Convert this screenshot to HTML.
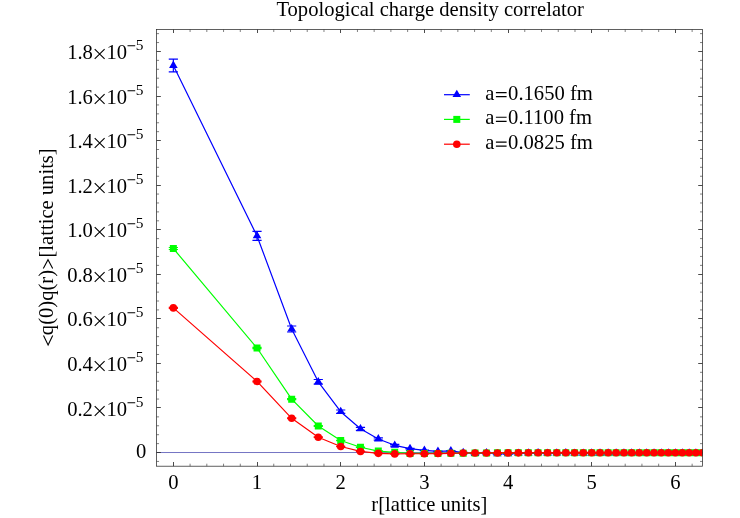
<!DOCTYPE html>
<html><head><meta charset="utf-8"><title>Topological charge density correlator</title>
<style>html,body{margin:0;padding:0;background:#fff}svg{display:block;will-change:transform}text{font-family:"Liberation Serif",serif;fill:#000}</style>
</head><body>
<svg width="740" height="518" viewBox="0 0 740 518">
<rect width="740" height="518" fill="#fff"/>
<defs><clipPath id="cp"><rect x="156.55" y="29.5" width="545.95" height="436.70"/></clipPath></defs>
<line x1="156.55" y1="452.52" x2="702.5" y2="452.52" stroke="#7474c4" stroke-width="1"/>
<path d="M173.50 466.2v-4.2M173.50 29.5v3.5M257.50 466.2v-4.2M257.50 29.5v3.5M340.50 466.2v-4.2M340.50 29.5v3.5M424.50 466.2v-4.2M424.50 29.5v3.5M508.50 466.2v-4.2M508.50 29.5v3.5M591.50 466.2v-4.2M591.50 29.5v3.5M675.50 466.2v-4.2M675.50 29.5v3.5M156.55 452.50h4.3M702.5 452.50h-4.3M156.55 407.50h4.3M702.5 407.50h-4.3M156.55 363.50h4.3M702.5 363.50h-4.3M156.55 318.50h4.3M702.5 318.50h-4.3M156.55 274.50h4.3M702.5 274.50h-4.3M156.55 229.50h4.3M702.5 229.50h-4.3M156.55 185.50h4.3M702.5 185.50h-4.3M156.55 140.50h4.3M702.5 140.50h-4.3M156.55 96.50h4.3M702.5 96.50h-4.3M156.55 51.50h4.3M702.5 51.50h-4.3" fill="none" stroke="#2b2b2b" stroke-width="0.85"/>
<path d="M190.08 466.2v-2.5M190.08 29.5v2.5M206.82 466.2v-2.5M206.82 29.5v2.5M223.56 466.2v-2.5M223.56 29.5v2.5M240.29 466.2v-2.5M240.29 29.5v2.5M273.76 466.2v-2.5M273.76 29.5v2.5M290.50 466.2v-2.5M290.50 29.5v2.5M307.23 466.2v-2.5M307.23 29.5v2.5M323.97 466.2v-2.5M323.97 29.5v2.5M357.44 466.2v-2.5M357.44 29.5v2.5M374.17 466.2v-2.5M374.17 29.5v2.5M390.90 466.2v-2.5M390.90 29.5v2.5M407.64 466.2v-2.5M407.64 29.5v2.5M441.11 466.2v-2.5M441.11 29.5v2.5M457.85 466.2v-2.5M457.85 29.5v2.5M474.58 466.2v-2.5M474.58 29.5v2.5M491.32 466.2v-2.5M491.32 29.5v2.5M524.78 466.2v-2.5M524.78 29.5v2.5M541.52 466.2v-2.5M541.52 29.5v2.5M558.25 466.2v-2.5M558.25 29.5v2.5M574.99 466.2v-2.5M574.99 29.5v2.5M608.46 466.2v-2.5M608.46 29.5v2.5M625.20 466.2v-2.5M625.20 29.5v2.5M641.93 466.2v-2.5M641.93 29.5v2.5M658.67 466.2v-2.5M658.67 29.5v2.5M692.13 466.2v-2.5M692.13 29.5v2.5M156.55 461.43h2.5M702.5 461.43h-2.5M156.55 443.61h2.5M702.5 443.61h-2.5M156.55 434.70h2.5M702.5 434.70h-2.5M156.55 425.78h2.5M702.5 425.78h-2.5M156.55 416.87h2.5M702.5 416.87h-2.5M156.55 399.05h2.5M702.5 399.05h-2.5M156.55 390.13h2.5M702.5 390.13h-2.5M156.55 381.22h2.5M702.5 381.22h-2.5M156.55 372.31h2.5M702.5 372.31h-2.5M156.55 354.48h2.5M702.5 354.48h-2.5M156.55 345.57h2.5M702.5 345.57h-2.5M156.55 336.66h2.5M702.5 336.66h-2.5M156.55 327.75h2.5M702.5 327.75h-2.5M156.55 309.92h2.5M702.5 309.92h-2.5M156.55 301.01h2.5M702.5 301.01h-2.5M156.55 292.10h2.5M702.5 292.10h-2.5M156.55 283.18h2.5M702.5 283.18h-2.5M156.55 265.36h2.5M702.5 265.36h-2.5M156.55 256.45h2.5M702.5 256.45h-2.5M156.55 247.53h2.5M702.5 247.53h-2.5M156.55 238.62h2.5M702.5 238.62h-2.5M156.55 220.80h2.5M702.5 220.80h-2.5M156.55 211.89h2.5M702.5 211.89h-2.5M156.55 202.97h2.5M702.5 202.97h-2.5M156.55 194.06h2.5M702.5 194.06h-2.5M156.55 176.24h2.5M702.5 176.24h-2.5M156.55 167.32h2.5M702.5 167.32h-2.5M156.55 158.41h2.5M702.5 158.41h-2.5M156.55 149.50h2.5M702.5 149.50h-2.5M156.55 131.67h2.5M702.5 131.67h-2.5M156.55 122.76h2.5M702.5 122.76h-2.5M156.55 113.85h2.5M702.5 113.85h-2.5M156.55 104.94h2.5M702.5 104.94h-2.5M156.55 87.11h2.5M702.5 87.11h-2.5M156.55 78.20h2.5M702.5 78.20h-2.5M156.55 69.29h2.5M702.5 69.29h-2.5M156.55 60.37h2.5M702.5 60.37h-2.5M156.55 42.55h2.5M702.5 42.55h-2.5M156.55 33.64h2.5M702.5 33.64h-2.5" fill="none" stroke="#2b2b2b" stroke-width="0.6"/>
<g clip-path="url(#cp)">
<polyline points="173.35,65.48 257.02,235.93 291.68,328.99 318.28,381.80 340.70,411.71 360.45,428.81 378.31,438.99 394.73,445.30 410.02,448.58 424.38,450.43 437.95,451.41 450.87,450.83 463.21,452.59 475.04,453.61 486.43,452.79 497.42,453.84 508.05,453.95 518.35,453.39 528.35,453.17 538.08,452.95 547.56,453.39 556.80,453.17 565.82,452.95 574.64,453.39 583.27,453.31 591.73,453.26 600.01,453.23 608.14,453.21 616.12,453.19 623.95,453.19 631.66,453.18 639.23,453.18 646.69,453.17 654.03,453.17 661.25,453.17 668.38,453.17 675.40,453.17 682.33,453.17 689.16,453.17 695.90,453.17 702.56,453.17" fill="none" stroke="#0000ff" stroke-width="1.2" stroke-linejoin="round"/>
<path d="M173.35 59.04V71.92M168.75 59.04h9.2M168.75 71.92h9.2M257.02 231.43V240.43M252.42 231.43h9.2M252.42 240.43h9.2M291.68 325.98V332.00M287.08 325.98h9.2M287.08 332.00h9.2M318.28 379.50V384.09M313.68 379.50h9.2M313.68 384.09h9.2M340.70 410.02V413.40M336.10 410.02h9.2M336.10 413.40h9.2M360.45 427.31V430.30M355.85 427.31h9.2M355.85 430.30h9.2M378.31 437.88V440.11M373.71 437.88h9.2M373.71 440.11h9.2M394.73 444.41V446.19M390.13 444.41h9.2M390.13 446.19h9.2M410.02 448.24V448.91M405.42 448.24h9.2M405.42 448.91h9.2M424.38 450.09V450.76M419.77 450.09h9.2M419.77 450.76h9.2M437.95 451.07V451.74M433.35 451.07h9.2M433.35 451.74h9.2M450.87 450.49V451.16M446.27 450.49h9.2M446.27 451.16h9.2M463.21 452.25V452.92M458.61 452.25h9.2M458.61 452.92h9.2M475.04 453.28V453.95M470.44 453.28h9.2M470.44 453.95h9.2M486.43 452.46V453.12M481.83 452.46h9.2M481.83 453.12h9.2M497.42 453.50V454.17M492.82 453.50h9.2M492.82 454.17h9.2M508.05 453.61V454.28M503.45 453.61h9.2M503.45 454.28h9.2M518.35 453.06V453.73M513.75 453.06h9.2M513.75 453.73h9.2M528.35 452.83V453.50M523.75 452.83h9.2M523.75 453.50h9.2M538.08 452.61V453.28M533.48 452.61h9.2M533.48 453.28h9.2M547.56 453.06V453.73M542.96 453.06h9.2M542.96 453.73h9.2M556.80 452.83V453.50M552.20 452.83h9.2M552.20 453.50h9.2M565.82 452.61V453.28M561.22 452.61h9.2M561.22 453.28h9.2M574.64 453.06V453.73M570.04 453.06h9.2M570.04 453.73h9.2M583.27 452.98V453.65M578.67 452.98h9.2M578.67 453.65h9.2M591.73 452.93V453.60M587.12 452.93h9.2M587.12 453.60h9.2M600.01 452.90V453.56M595.41 452.90h9.2M595.41 453.56h9.2M608.14 452.87V453.54M603.54 452.87h9.2M603.54 453.54h9.2M616.12 452.86V453.53M611.52 452.86h9.2M611.52 453.53h9.2M623.95 452.85V453.52M619.35 452.85h9.2M619.35 453.52h9.2M631.66 452.85V453.51M627.06 452.85h9.2M627.06 453.51h9.2M639.23 452.84V453.51M634.63 452.84h9.2M634.63 453.51h9.2M646.69 452.84V453.51M642.09 452.84h9.2M642.09 453.51h9.2M654.03 452.84V453.51M649.43 452.84h9.2M649.43 453.51h9.2M661.25 452.84V453.51M656.65 452.84h9.2M656.65 453.51h9.2M668.38 452.84V453.50M663.78 452.84h9.2M663.78 453.50h9.2M675.40 452.84V453.50M670.80 452.84h9.2M670.80 453.50h9.2M682.33 452.83V453.50M677.73 452.83h9.2M677.73 453.50h9.2M689.16 452.83V453.50M684.56 452.83h9.2M684.56 453.50h9.2M695.90 452.83V453.50M691.30 452.83h9.2M691.30 453.50h9.2M702.56 452.83V453.50M697.96 452.83h9.2M697.96 453.50h9.2" fill="none" stroke="#0000ff" stroke-width="1.2"/>
<path d="M173.35 60.58L177.65 67.88H169.05ZM257.02 231.03L261.32 238.33H252.72ZM291.68 324.09L295.98 331.39H287.38ZM318.28 376.90L322.58 384.20H313.98ZM340.70 406.81L345.00 414.11H336.40ZM360.45 423.91L364.75 431.21H356.15ZM378.31 434.09L382.61 441.39H374.01ZM394.73 440.40L399.03 447.70H390.43ZM410.02 443.68L414.32 450.98H405.72ZM424.38 445.53L428.68 452.83H420.07ZM437.95 446.51L442.25 453.81H433.65ZM450.87 445.93L455.17 453.23H446.57ZM463.21 447.69L467.51 454.99H458.91ZM475.04 448.71L479.34 456.01H470.74ZM486.43 447.89L490.73 455.19H482.13ZM497.42 448.94L501.72 456.24H493.12ZM508.05 449.05L512.35 456.35H503.75ZM518.35 448.49L522.65 455.79H514.05ZM528.35 448.27L532.65 455.57H524.05ZM538.08 448.05L542.38 455.35H533.78ZM547.56 448.49L551.86 455.79H543.26ZM556.80 448.27L561.10 455.57H552.50ZM565.82 448.05L570.12 455.35H561.52ZM574.64 448.49L578.94 455.79H570.34ZM583.27 448.41L587.57 455.71H578.97ZM591.73 448.36L596.02 455.66H587.43ZM600.01 448.33L604.31 455.63H595.71ZM608.14 448.31L612.44 455.61H603.84ZM616.12 448.29L620.42 455.59H611.82ZM623.95 448.29L628.25 455.59H619.65ZM631.66 448.28L635.96 455.58H627.36ZM639.23 448.28L643.53 455.58H634.93ZM646.69 448.27L650.99 455.57H642.39ZM654.03 448.27L658.33 455.57H649.73ZM661.25 448.27L665.55 455.57H656.95ZM668.38 448.27L672.68 455.57H664.08ZM675.40 448.27L679.70 455.57H671.10ZM682.33 448.27L686.63 455.57H678.03ZM689.16 448.27L693.46 455.57H684.86ZM695.90 448.27L700.20 455.57H691.60ZM702.56 448.27L706.86 455.57H698.26Z" fill="#0000ff"/>
<polyline points="173.35,248.50 257.02,348.03 291.68,399.16 318.28,426.04 340.70,440.46 360.45,447.24 378.31,451.05 394.73,452.37 410.02,453.46 424.38,453.44 437.95,453.39 450.87,453.28 463.21,453.17 475.04,452.95 486.43,452.95 497.42,452.83 508.05,452.80 518.35,452.77 528.35,452.75 538.08,452.74 547.56,452.74 556.80,452.73 565.82,452.73 574.64,452.73 583.27,452.73 591.73,452.72 600.01,452.72 608.14,452.72 616.12,452.72 623.95,452.72 631.66,452.72 639.23,452.72 646.69,452.72 654.03,452.72 661.25,452.72 668.38,452.72 675.40,452.72 682.33,452.72 689.16,452.72 695.90,452.72 702.56,452.72" fill="none" stroke="#00ff00" stroke-width="1.2" stroke-linejoin="round"/>
<path d="M173.35 247.50V249.50M168.75 247.50h9.2M168.75 249.50h9.2M257.02 347.36V348.70M252.42 347.36h9.2M252.42 348.70h9.2M291.68 398.60V399.72M287.08 398.60h9.2M287.08 399.72h9.2M318.28 425.60V426.49M313.68 425.60h9.2M313.68 426.49h9.2M340.70 440.24V440.69M336.10 440.24h9.2M336.10 440.69h9.2M360.45 447.02V447.46M355.85 447.02h9.2M355.85 447.46h9.2M378.31 450.83V451.27M373.71 450.83h9.2M373.71 451.27h9.2M394.73 452.14V452.59M390.13 452.14h9.2M390.13 452.59h9.2M410.02 453.24V453.68M405.42 453.24h9.2M405.42 453.68h9.2M424.38 453.21V453.66M419.77 453.21h9.2M419.77 453.66h9.2M437.95 453.17V453.61M433.35 453.17h9.2M433.35 453.61h9.2M450.87 453.06V453.50M446.27 453.06h9.2M446.27 453.50h9.2M463.21 452.95V453.39M458.61 452.95h9.2M458.61 453.39h9.2M475.04 452.72V453.17M470.44 452.72h9.2M470.44 453.17h9.2M486.43 452.72V453.17M481.83 452.72h9.2M481.83 453.17h9.2M497.42 452.61V453.06M492.82 452.61h9.2M492.82 453.06h9.2M508.05 452.57V453.02M503.45 452.57h9.2M503.45 453.02h9.2M518.35 452.55V452.99M513.75 452.55h9.2M513.75 452.99h9.2M528.35 452.53V452.98M523.75 452.53h9.2M523.75 452.98h9.2M538.08 452.52V452.97M533.48 452.52h9.2M533.48 452.97h9.2M547.56 452.51V452.96M542.96 452.51h9.2M542.96 452.96h9.2M556.80 452.51V452.95M552.20 452.51h9.2M552.20 452.95h9.2M565.82 452.51V452.95M561.22 452.51h9.2M561.22 452.95h9.2M574.64 452.50V452.95M570.04 452.50h9.2M570.04 452.95h9.2M583.27 452.50V452.95M578.67 452.50h9.2M578.67 452.95h9.2M591.73 452.50V452.95M587.12 452.50h9.2M587.12 452.95h9.2M600.01 452.50V452.95M595.41 452.50h9.2M595.41 452.95h9.2M608.14 452.50V452.95M603.54 452.50h9.2M603.54 452.95h9.2M616.12 452.50V452.95M611.52 452.50h9.2M611.52 452.95h9.2M623.95 452.50V452.95M619.35 452.50h9.2M619.35 452.95h9.2M631.66 452.50V452.95M627.06 452.50h9.2M627.06 452.95h9.2M639.23 452.50V452.95M634.63 452.50h9.2M634.63 452.95h9.2M646.69 452.50V452.95M642.09 452.50h9.2M642.09 452.95h9.2M654.03 452.50V452.95M649.43 452.50h9.2M649.43 452.95h9.2M661.25 452.50V452.95M656.65 452.50h9.2M656.65 452.95h9.2M668.38 452.50V452.95M663.78 452.50h9.2M663.78 452.95h9.2M675.40 452.50V452.95M670.80 452.50h9.2M670.80 452.95h9.2M682.33 452.50V452.95M677.73 452.50h9.2M677.73 452.95h9.2M689.16 452.50V452.95M684.56 452.50h9.2M684.56 452.95h9.2M695.90 452.50V452.95M691.30 452.50h9.2M691.30 452.95h9.2M702.56 452.50V452.95M697.96 452.50h9.2M697.96 452.95h9.2" fill="none" stroke="#00ff00" stroke-width="1.2"/>
<path d="M169.85 245.00h7v7h-7ZM253.52 344.53h7v7h-7ZM288.18 395.66h7v7h-7ZM314.78 422.54h7v7h-7ZM337.20 436.96h7v7h-7ZM356.95 443.74h7v7h-7ZM374.81 447.55h7v7h-7ZM391.23 448.87h7v7h-7ZM406.52 449.96h7v7h-7ZM420.88 449.94h7v7h-7ZM434.45 449.89h7v7h-7ZM447.37 449.78h7v7h-7ZM459.71 449.67h7v7h-7ZM471.54 449.45h7v7h-7ZM482.93 449.45h7v7h-7ZM493.92 449.33h7v7h-7ZM504.55 449.30h7v7h-7ZM514.85 449.27h7v7h-7ZM524.85 449.25h7v7h-7ZM534.58 449.24h7v7h-7ZM544.06 449.24h7v7h-7ZM553.30 449.23h7v7h-7ZM562.32 449.23h7v7h-7ZM571.14 449.23h7v7h-7ZM579.77 449.23h7v7h-7ZM588.23 449.22h7v7h-7ZM596.51 449.22h7v7h-7ZM604.64 449.22h7v7h-7ZM612.62 449.22h7v7h-7ZM620.45 449.22h7v7h-7ZM628.16 449.22h7v7h-7ZM635.73 449.22h7v7h-7ZM643.19 449.22h7v7h-7ZM650.53 449.22h7v7h-7ZM657.75 449.22h7v7h-7ZM664.88 449.22h7v7h-7ZM671.90 449.22h7v7h-7ZM678.83 449.22h7v7h-7ZM685.66 449.22h7v7h-7ZM692.40 449.22h7v7h-7ZM699.06 449.22h7v7h-7Z" fill="#00ff00"/>
<polyline points="173.35,307.90 257.02,381.46 291.68,418.31 318.28,437.19 340.70,446.53 360.45,451.43 378.31,453.35 394.73,453.90 410.02,453.73 424.38,453.75 437.95,453.53 450.87,453.28 463.21,452.99 475.04,452.97 486.43,452.95 497.42,452.95 508.05,452.90 518.35,452.83 528.35,452.77 538.08,452.74 547.56,452.72 556.80,452.70 565.82,452.69 574.64,452.69 583.27,452.69 591.73,452.68 600.01,452.68 608.14,452.68 616.12,452.68 623.95,452.68 631.66,452.68 639.23,452.68 646.69,452.68 654.03,452.68 661.25,452.68 668.38,452.68 675.40,452.68 682.33,452.68 689.16,452.68 695.90,452.68 702.56,452.68" fill="none" stroke="#ff0000" stroke-width="1.2" stroke-linejoin="round"/>
<path d="M173.35 307.46V308.35M168.75 307.46h9.2M168.75 308.35h9.2M257.02 381.02V381.91M252.42 381.02h9.2M252.42 381.91h9.2M291.68 417.86V418.75M287.08 417.86h9.2M287.08 418.75h9.2M318.28 436.85V437.52M313.68 436.85h9.2M313.68 437.52h9.2M340.70 446.30V446.75M336.10 446.30h9.2M336.10 446.75h9.2M360.45 451.21V451.65M355.85 451.21h9.2M355.85 451.65h9.2M378.31 453.12V453.57M373.71 453.12h9.2M373.71 453.57h9.2M394.73 453.68V454.13M390.13 453.68h9.2M390.13 454.13h9.2M410.02 453.50V453.95M405.42 453.50h9.2M405.42 453.95h9.2M424.38 453.53V453.97M419.77 453.53h9.2M419.77 453.97h9.2M437.95 453.30V453.75M433.35 453.30h9.2M433.35 453.75h9.2M450.87 453.06V453.50M446.27 453.06h9.2M446.27 453.50h9.2M463.21 452.77V453.21M458.61 452.77h9.2M458.61 453.21h9.2M475.04 452.75V453.19M470.44 452.75h9.2M470.44 453.19h9.2M486.43 452.72V453.17M481.83 452.72h9.2M481.83 453.17h9.2M497.42 452.72V453.17M492.82 452.72h9.2M492.82 453.17h9.2M508.05 452.68V453.12M503.45 452.68h9.2M503.45 453.12h9.2M518.35 452.61V453.06M513.75 452.61h9.2M513.75 453.06h9.2M528.35 452.54V452.99M523.75 452.54h9.2M523.75 452.99h9.2M538.08 452.51V452.96M533.48 452.51h9.2M533.48 452.96h9.2M547.56 452.49V452.94M542.96 452.49h9.2M542.96 452.94h9.2M556.80 452.48V452.93M552.20 452.48h9.2M552.20 452.93h9.2M565.82 452.47V452.92M561.22 452.47h9.2M561.22 452.92h9.2M574.64 452.47V452.91M570.04 452.47h9.2M570.04 452.91h9.2M583.27 452.46V452.91M578.67 452.46h9.2M578.67 452.91h9.2M591.73 452.46V452.91M587.12 452.46h9.2M587.12 452.91h9.2M600.01 452.46V452.90M595.41 452.46h9.2M595.41 452.90h9.2M608.14 452.46V452.90M603.54 452.46h9.2M603.54 452.90h9.2M616.12 452.46V452.90M611.52 452.46h9.2M611.52 452.90h9.2M623.95 452.46V452.90M619.35 452.46h9.2M619.35 452.90h9.2M631.66 452.46V452.90M627.06 452.46h9.2M627.06 452.90h9.2M639.23 452.46V452.90M634.63 452.46h9.2M634.63 452.90h9.2M646.69 452.46V452.90M642.09 452.46h9.2M642.09 452.90h9.2M654.03 452.46V452.90M649.43 452.46h9.2M649.43 452.90h9.2M661.25 452.46V452.90M656.65 452.46h9.2M656.65 452.90h9.2M668.38 452.46V452.90M663.78 452.46h9.2M663.78 452.90h9.2M675.40 452.46V452.90M670.80 452.46h9.2M670.80 452.90h9.2M682.33 452.46V452.90M677.73 452.46h9.2M677.73 452.90h9.2M689.16 452.46V452.90M684.56 452.46h9.2M684.56 452.90h9.2M695.90 452.46V452.90M691.30 452.46h9.2M691.30 452.90h9.2M702.56 452.46V452.90M697.96 452.46h9.2M697.96 452.90h9.2" fill="none" stroke="#ff0000" stroke-width="1.2"/>
<circle cx="173.35" cy="307.90" r="3.8" fill="#ff0000"/>
<circle cx="257.02" cy="381.46" r="3.8" fill="#ff0000"/>
<circle cx="291.68" cy="418.31" r="3.8" fill="#ff0000"/>
<circle cx="318.28" cy="437.19" r="3.8" fill="#ff0000"/>
<circle cx="340.70" cy="446.53" r="3.8" fill="#ff0000"/>
<circle cx="360.45" cy="451.43" r="3.8" fill="#ff0000"/>
<circle cx="378.31" cy="453.35" r="3.8" fill="#ff0000"/>
<circle cx="394.73" cy="453.90" r="3.8" fill="#ff0000"/>
<circle cx="410.02" cy="453.73" r="3.8" fill="#ff0000"/>
<circle cx="424.38" cy="453.75" r="3.8" fill="#ff0000"/>
<circle cx="437.95" cy="453.53" r="3.8" fill="#ff0000"/>
<circle cx="450.87" cy="453.28" r="3.8" fill="#ff0000"/>
<circle cx="463.21" cy="452.99" r="3.8" fill="#ff0000"/>
<circle cx="475.04" cy="452.97" r="3.8" fill="#ff0000"/>
<circle cx="486.43" cy="452.95" r="3.8" fill="#ff0000"/>
<circle cx="497.42" cy="452.95" r="3.8" fill="#ff0000"/>
<circle cx="508.05" cy="452.90" r="3.8" fill="#ff0000"/>
<circle cx="518.35" cy="452.83" r="3.8" fill="#ff0000"/>
<circle cx="528.35" cy="452.77" r="3.8" fill="#ff0000"/>
<circle cx="538.08" cy="452.74" r="3.8" fill="#ff0000"/>
<circle cx="547.56" cy="452.72" r="3.8" fill="#ff0000"/>
<circle cx="556.80" cy="452.70" r="3.8" fill="#ff0000"/>
<circle cx="565.82" cy="452.69" r="3.8" fill="#ff0000"/>
<circle cx="574.64" cy="452.69" r="3.8" fill="#ff0000"/>
<circle cx="583.27" cy="452.69" r="3.8" fill="#ff0000"/>
<circle cx="591.73" cy="452.68" r="3.8" fill="#ff0000"/>
<circle cx="600.01" cy="452.68" r="3.8" fill="#ff0000"/>
<circle cx="608.14" cy="452.68" r="3.8" fill="#ff0000"/>
<circle cx="616.12" cy="452.68" r="3.8" fill="#ff0000"/>
<circle cx="623.95" cy="452.68" r="3.8" fill="#ff0000"/>
<circle cx="631.66" cy="452.68" r="3.8" fill="#ff0000"/>
<circle cx="639.23" cy="452.68" r="3.8" fill="#ff0000"/>
<circle cx="646.69" cy="452.68" r="3.8" fill="#ff0000"/>
<circle cx="654.03" cy="452.68" r="3.8" fill="#ff0000"/>
<circle cx="661.25" cy="452.68" r="3.8" fill="#ff0000"/>
<circle cx="668.38" cy="452.68" r="3.8" fill="#ff0000"/>
<circle cx="675.40" cy="452.68" r="3.8" fill="#ff0000"/>
<circle cx="682.33" cy="452.68" r="3.8" fill="#ff0000"/>
<circle cx="689.16" cy="452.68" r="3.8" fill="#ff0000"/>
<circle cx="695.90" cy="452.68" r="3.8" fill="#ff0000"/>
<circle cx="702.56" cy="452.68" r="3.8" fill="#ff0000"/>
</g>
<rect x="156.55" y="29.5" width="545.95" height="436.70" fill="none" stroke="#2b2b2b" stroke-width="0.75"/>
<text x="430.2" y="16" font-size="20.6" text-anchor="middle">Topological charge density correlator</text>
<text x="173.35" y="489" font-size="20.6" text-anchor="middle">0</text>
<text x="257.02" y="489" font-size="20.6" text-anchor="middle">1</text>
<text x="340.70" y="489" font-size="20.6" text-anchor="middle">2</text>
<text x="424.38" y="489" font-size="20.6" text-anchor="middle">3</text>
<text x="508.05" y="489" font-size="20.6" text-anchor="middle">4</text>
<text x="591.73" y="489" font-size="20.6" text-anchor="middle">5</text>
<text x="675.40" y="489" font-size="20.6" text-anchor="middle">6</text>
<text x="429.4" y="511" font-size="20.6" text-anchor="middle">r[lattice units]</text>
<text x="146.2" y="457.52" font-size="20.6" text-anchor="end">0</text>
<text x="92.9" y="416.00" font-size="20.6" text-anchor="end">0.2</text>
<text x="106.4" y="416.00" font-size="20.6">10</text>
<text x="135.7" y="407.00" font-size="15.4">5</text>
<text x="92.9" y="371.00" font-size="20.6" text-anchor="end">0.4</text>
<text x="106.4" y="371.00" font-size="20.6">10</text>
<text x="135.7" y="362.00" font-size="15.4">5</text>
<text x="92.9" y="326.00" font-size="20.6" text-anchor="end">0.6</text>
<text x="106.4" y="326.00" font-size="20.6">10</text>
<text x="135.7" y="317.00" font-size="15.4">5</text>
<text x="92.9" y="282.00" font-size="20.6" text-anchor="end">0.8</text>
<text x="106.4" y="282.00" font-size="20.6">10</text>
<text x="135.7" y="273.00" font-size="15.4">5</text>
<text x="92.9" y="237.00" font-size="20.6" text-anchor="end">1.0</text>
<text x="106.4" y="237.00" font-size="20.6">10</text>
<text x="135.7" y="228.00" font-size="15.4">5</text>
<text x="92.9" y="193.00" font-size="20.6" text-anchor="end">1.2</text>
<text x="106.4" y="193.00" font-size="20.6">10</text>
<text x="135.7" y="184.00" font-size="15.4">5</text>
<text x="92.9" y="148.00" font-size="20.6" text-anchor="end">1.4</text>
<text x="106.4" y="148.00" font-size="20.6">10</text>
<text x="135.7" y="139.00" font-size="15.4">5</text>
<text x="92.9" y="104.00" font-size="20.6" text-anchor="end">1.6</text>
<text x="106.4" y="104.00" font-size="20.6">10</text>
<text x="135.7" y="95.00" font-size="15.4">5</text>
<text x="92.9" y="59.00" font-size="20.6" text-anchor="end">1.8</text>
<text x="106.4" y="59.00" font-size="20.6">10</text>
<text x="135.7" y="50.00" font-size="15.4">5</text>
<path d="M127.5 402.80h7.7M94.7 406.20l9.9 9.6m0 -9.6l-9.9 9.6M127.5 357.80h7.7M94.7 361.20l9.9 9.6m0 -9.6l-9.9 9.6M127.5 312.80h7.7M94.7 316.20l9.9 9.6m0 -9.6l-9.9 9.6M127.5 268.80h7.7M94.7 272.20l9.9 9.6m0 -9.6l-9.9 9.6M127.5 223.80h7.7M94.7 227.20l9.9 9.6m0 -9.6l-9.9 9.6M127.5 179.80h7.7M94.7 183.20l9.9 9.6m0 -9.6l-9.9 9.6M127.5 134.80h7.7M94.7 138.20l9.9 9.6m0 -9.6l-9.9 9.6M127.5 90.80h7.7M94.7 94.20l9.9 9.6m0 -9.6l-9.9 9.6M127.5 45.80h7.7M94.7 49.20l9.9 9.6m0 -9.6l-9.9 9.6" fill="none" stroke="#000" stroke-width="1.1"/>
<text transform="translate(52.8 335.13) rotate(-90)" font-size="20.6">q(0)q(r)</text>
<text transform="translate(52.8 257.5) rotate(-90)" font-size="20.6">[lattice units]</text>
<path d="M43.5 335.6L48.1 345L52.7 335.6M43.3 268.6L48 259.7L52.7 268.6" fill="none" stroke="#000" stroke-width="1.1" stroke-linejoin="miter" stroke-miterlimit="10"/>
<line x1="444.0" y1="94.7" x2="469.8" y2="94.7" stroke="#0000ff" stroke-width="1.2"/>
<path d="M456.8 89.80L461.1 97.10H452.5Z" fill="#0000ff"/>
<text x="485.2" y="99.50" font-size="20.6">a</text>
<path d="M495.9 92.60h10.7M495.9 96.65h10.7" fill="none" stroke="#000" stroke-width="1.1"/>
<text x="508.1" y="99.50" font-size="20.6">0.1650 fm</text>
<line x1="444.0" y1="119.4" x2="469.8" y2="119.4" stroke="#00ff00" stroke-width="1.2"/>
<rect x="453.3" y="115.90" width="7" height="7" fill="#00ff00"/>
<text x="485.2" y="124.20" font-size="20.6">a</text>
<path d="M495.9 117.30h10.7M495.9 121.35h10.7" fill="none" stroke="#000" stroke-width="1.1"/>
<text x="508.1" y="124.20" font-size="20.6">0.1100 fm</text>
<line x1="444.0" y1="144.2" x2="469.8" y2="144.2" stroke="#ff0000" stroke-width="1.2"/>
<circle cx="456.8" cy="144.2" r="3.8" fill="#ff0000"/>
<text x="485.2" y="149.00" font-size="20.6">a</text>
<path d="M495.9 142.10h10.7M495.9 146.15h10.7" fill="none" stroke="#000" stroke-width="1.1"/>
<text x="508.1" y="149.00" font-size="20.6">0.0825 fm</text>
</svg></body></html>
